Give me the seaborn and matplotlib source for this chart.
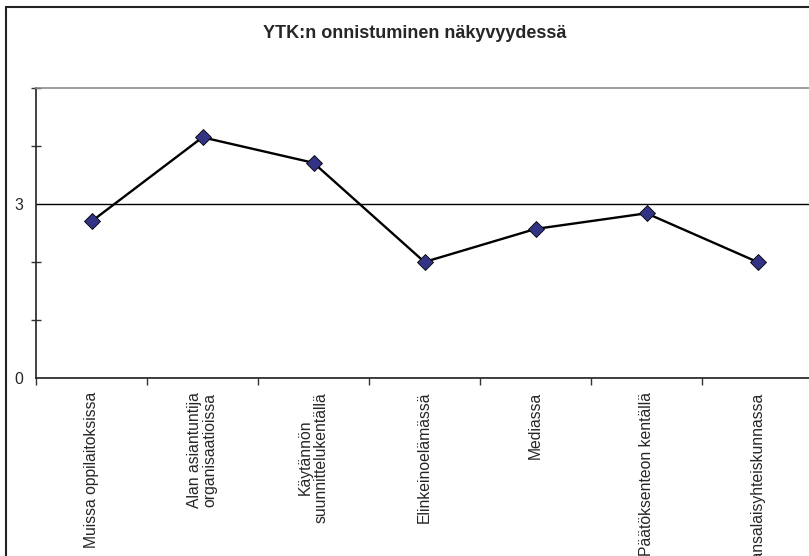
import matplotlib
matplotlib.use("Agg")
import matplotlib.pyplot as plt
import matplotlib.patches as mpatches
from matplotlib.ticker import FixedLocator
import pandas as pd
import seaborn as sns

categories = [
    "Muissa oppilaitoksissa",
    "Alan asiantuntija\norganisaatioissa",
    "Käytännön\nsuunnittelukentällä",
    "Elinkeinoelämässä",
    "Mediassa",
    "Päätöksenteon kentällä",
    "Kansalaisyhteiskunnassa",
]
values = [2.7, 4.15, 3.71, 2.0, 2.57, 2.84, 2.0]
title = "YTK:n onnistuminen näkyvyydessä"

df = pd.DataFrame({"kohde": categories, "arvo": values})

sns.set_style("white")
plt.rcParams["font.family"] = ["Liberation Sans", "DejaVu Sans"]

W, H = 809, 556
fig = plt.figure(figsize=(W / 100, H / 100), dpi=100)
ax = fig.add_axes([36 / W, 1 - 378 / H, (813 - 36) / W, (378 - 88) / H])

# chart area frame (cut off on the right and bottom like the original)
fig.patches.append(mpatches.Rectangle((6 / W, -0.1), 1.2, 1.1 - 7 / H,
                                      transform=fig.transFigure, fill=False,
                                      edgecolor="#222222", lw=1.5, zorder=0))

sns.lineplot(data=df, x="kohde", y="arvo", sort=False, ax=ax,
             color="black", lw=1.7, marker="D", markersize=8,
             markerfacecolor="#333385", markeredgecolor="black",
             markeredgewidth=0.6, zorder=5)

ax.set_xlim(-0.5, len(categories) - 0.5)
ax.set_ylim(0, 5)

ax.yaxis.set_major_locator(FixedLocator([0, 3]))
ax.yaxis.set_minor_locator(FixedLocator([1, 2, 4, 5]))
ax.tick_params(axis="y", which="major", direction="out", length=5, width=1,
               color="#333333", labelsize=11.3, pad=4)
ax.tick_params(axis="y", which="minor", direction="inout", length=7, width=1,
               color="#333333", left=True)

ax.xaxis.set_minor_locator(FixedLocator([i - 0.5 for i in range(len(categories) + 1)]))
ax.tick_params(axis="x", which="major", length=0, labelsize=11.3, pad=10)
ax.tick_params(axis="x", which="minor", direction="out", length=5, width=1,
               color="#333333", bottom=True)
ax.set_xticks(range(len(categories)))
ax.set_xticklabels(categories, rotation=90, ha="center", va="top",
                   multialignment="center", linespacing=1.05)

ax.grid(False)
ax.yaxis.grid(True, which="major", color="black", lw=1)
ax.set_axisbelow(True)

for side in ["left", "bottom"]:
    ax.spines[side].set_color("#222222")
    ax.spines[side].set_linewidth(1.2)
ax.spines["top"].set_color("#8c8c8c")
ax.spines["top"].set_linewidth(1.2)
ax.spines["right"].set_visible(False)

ax.set_xlabel("")
ax.set_ylabel("")

fig.text(415 / W, 1 - 34 / H, title, ha="center", va="center",
         fontsize=13, fontweight="bold")

fig.savefig("out.png", dpi=100)
